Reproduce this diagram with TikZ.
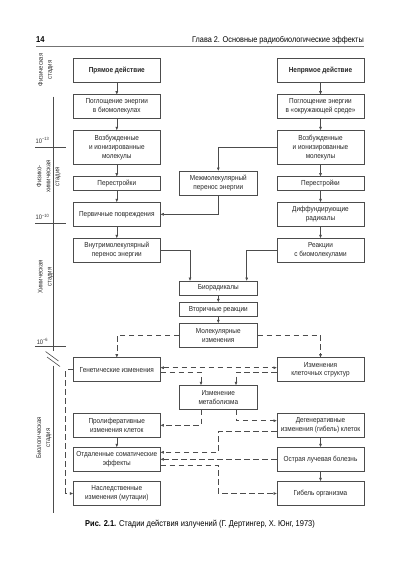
\documentclass[tikz,border=0pt]{standalone}
\usepackage{fontspec}
\setmainfont{Liberation Sans}[FakeStretch=0.88]
\usetikzlibrary{arrows.meta,calc}
\begin{document}
\begin{tikzpicture}[x=1pt,y=-1pt,
  >={Triangle[length=3.2pt,width=2.6pt]},
  box/.style={draw=black!70, line width=0.6pt, rectangle, inner sep=0pt, align=center,
    font=\fontsize{7.3}{8.8}\selectfont, text=black!85},
  lw/.style={box, minimum width=87pt},
  mw/.style={box, minimum width=78pt},
  conn/.style={draw=black!70, line width=0.55pt, ->},
  dsh/.style={conn, dash pattern=on 5.5pt off 3.5pt},
  axis/.style={draw=black!70, line width=0.6pt},
  stage/.style={rotate=90, align=center, font=\fontsize{6.8}{9}\selectfont, text=black!80, inner sep=0pt},
  tick/.style={font=\fontsize{6.5}{8}\selectfont, text=black!80, inner sep=0pt}
]
\fill[white] (0,0) rectangle (400,570);
\useasboundingbox (0,0) rectangle (400,570);

% header
\node[anchor=west, font=\fontsize{8.6}{10}\selectfont\bfseries, inner sep=0pt] (pg) at (36,40) {14};
\node[anchor=east, font=\fontsize{8.3}{10}\selectfont, inner sep=0pt] (ttl) at (364,40) {Глава 2. Основные радиобиологические эффекты};
\draw[black!55, line width=1pt] (36,46.7) -- (364,46.7);

% left column
\node[lw, minimum height=23.6pt] (pd) at (116.8,70.5) {\textbf{Прямое действие}};
\node[lw, minimum height=23.6pt] (pl1) at (116.8,106.5) {Поглощение энергии\\в биомолекулах};
\node[lw, minimum height=34pt] (vz1) at (116.8,147.3) {Возбужденные\\и ионизированные\\молекулы};
\node[lw, minimum height=13.3pt] (pe1) at (116.8,183.3) {Перестройки};
\node[lw, minimum height=24pt] (pp) at (116.8,214.3) {Первичные повреждения};
\node[lw, minimum height=23.7pt] (vm) at (116.8,250.2) {Внутримолекулярный\\перенос энергии};

% right column
\node[lw, minimum height=23.6pt] (nd) at (320.5,70.5) {\textbf{Непрямое действие}};
\node[lw, minimum height=23.6pt] (pl2) at (320.5,106.5) {Поглощение энергии\\в «окружающей среде»};
\node[lw, minimum height=34pt] (vz2) at (320.5,147.3) {Возбужденные\\и ионизированные\\молекулы};
\node[lw, minimum height=13.3pt] (pe2) at (320.5,183.3) {Перестройки};
\node[lw, minimum height=24pt] (dr) at (320.5,214.3) {Диффундирующие\\радикалы};
\node[lw, minimum height=23.7pt] (rb) at (320.5,250.2) {Реакции\\с биомолекулами};

% middle
\node[mw, minimum height=24pt] (mm) at (218.3,183) {Межмолекулярный\\перенос энергии};
\node[mw, minimum height=14.3pt] (br) at (218.3,288.2) {Биорадикалы};
\node[mw, minimum height=14.4pt] (vr) at (218.3,309.5) {Вторичные реакции};
\node[mw, minimum height=24pt] (mi) at (218.3,335.3) {Молекулярные\\изменения};
\node[mw, minimum height=24pt] (me) at (218.3,397.3) {Изменение\\метаболизма};

% biological
\node[lw, minimum height=24pt] (gi) at (116.8,369.7) {Генетические изменения};
\node[lw, minimum height=24pt] (ks) at (320.5,369.7) {Изменения\\клеточных структур};
\node[lw, minimum height=24pt] (pr) at (116.8,425.3) {Пролиферативные\\изменения клеток};
\node[lw, minimum height=24pt] (dg) at (320.5,425.3) {Дегенеративные\\изменения (гибель) клеток};
\node[lw, minimum height=24pt] (os) at (116.8,459.3) {Отдаленные соматические\\эффекты};
\node[lw, minimum height=24pt] (ol) at (320.5,459.3) {Острая лучевая болезнь};
\node[lw, minimum height=24.4pt] (ns) at (116.8,493.5) {Наследственные\\изменения (мутации)};
\node[lw, minimum height=24.4pt] (go) at (320.5,493.5) {Гибель организма};

% solid connectors
\draw[conn] (pd) -- (pl1);
\draw[conn] (pl1) -- (vz1);
\draw[conn] (vz1) -- (pe1);
\draw[conn] (pe1) -- (pp);
\draw[conn] (pp) -- (vm);
\draw[conn] (nd) -- (pl2);
\draw[conn] (pl2) -- (vz2);
\draw[conn] (vz2) -- (pe2);
\draw[conn] (pe2) -- (dr);
\draw[conn] (dr) -- (rb);
\draw[conn] (vz2.west) -| (mm.north);
\draw[conn] (mm.south) |- (pp.east);
\draw[conn] ($(vm.east)+(0,0.5)$) -| ($(br.north)+(-28.3,0)$);
\draw[conn] ($(rb.west)+(0,0.5)$) -| ($(br.north)+(28.4,0)$);
\draw[conn] (br) -- (vr);
\draw[conn] (vr) -- (mi);
\draw[conn] (pr) -- (os);
\draw[conn] (dg) -- (ol);
\draw[conn] (ol) -- (go);

% dashed connectors
\draw[dsh] (mi.west) -| (gi.north);
\draw[dsh] (mi.east) -| (ks.north);
\draw[dsh,<->] ($(gi.east)+(0,-2)$) -- ($(ks.west)+(0,-2)$);
\draw[dsh] ($(gi.east)+(0,2.6)$) -| ($(me.north)+(-17.3,0)$);
\draw[dsh] ($(ks.west)+(0,2.6)$) -| ($(me.north)+(17.7,0)$);
\draw[dsh] ($(me.south)+(-17.3,0)$) |- (pr.east);
\draw[dsh] ($(me.south)+(17.7,0)$) |- ($(dg.west)+(0,-4.6)$);
\draw[dsh] ($(dg.west)+(0,6.4)$) -| ($(me.south |- os.east)+(0,-7)$) -- ($(os.east)+(0,-7)$);
\draw[dsh] (ol.west) -- (os.east);
\draw[dsh] ($(os.east)+(0,5.7)$) -| (me.south |- go.west) -- (go.west);
\draw[dsh] (gi.west) -| ($(ns.west)+(-7.3,0)$) -- (ns.west);

% axis
\draw[axis] (53.3,96.7) -- (53.3,350.5);
\draw[axis] (53.3,365.5) -- (53.3,513.3);
\draw[axis] (45.5,351.5) -- (58.5,361);
\draw[axis] (47,357) -- (60,366.5);
\draw[axis] (35,147.2) -- (65.5,147.2);
\draw[axis] (35,222.8) -- (65.5,222.8);
\draw[axis] (35,346) -- (65.5,346);
\node[tick] (t13) at (42.5,140.5) {10\textsuperscript{−13}};
\node[tick] (t10) at (42.5,217) {10\textsuperscript{−10}};
\node[tick] (t6) at (42.5,341.3) {10\textsuperscript{−6}};

% stage labels
\node[stage] (s1) at (45.8,70) {Физическая\\стадия};
\node[stage] (s2) at (48.7,176.5) {Физико-\\химическая\\стадия};
\node[stage] (s3) at (45.5,277) {Химическая\\стадия};
\node[stage] (s4) at (44,438) {Биологическая\\стадия};

% caption
\node[font=\fontsize{8.5}{10}\selectfont, inner sep=0pt] (cap) at (200,524) {\textbf{Рис. 2.1.} Стадии действия излучений (Г. Дертингер, Х. Юнг, 1973)};
\end{tikzpicture}
\end{document}
